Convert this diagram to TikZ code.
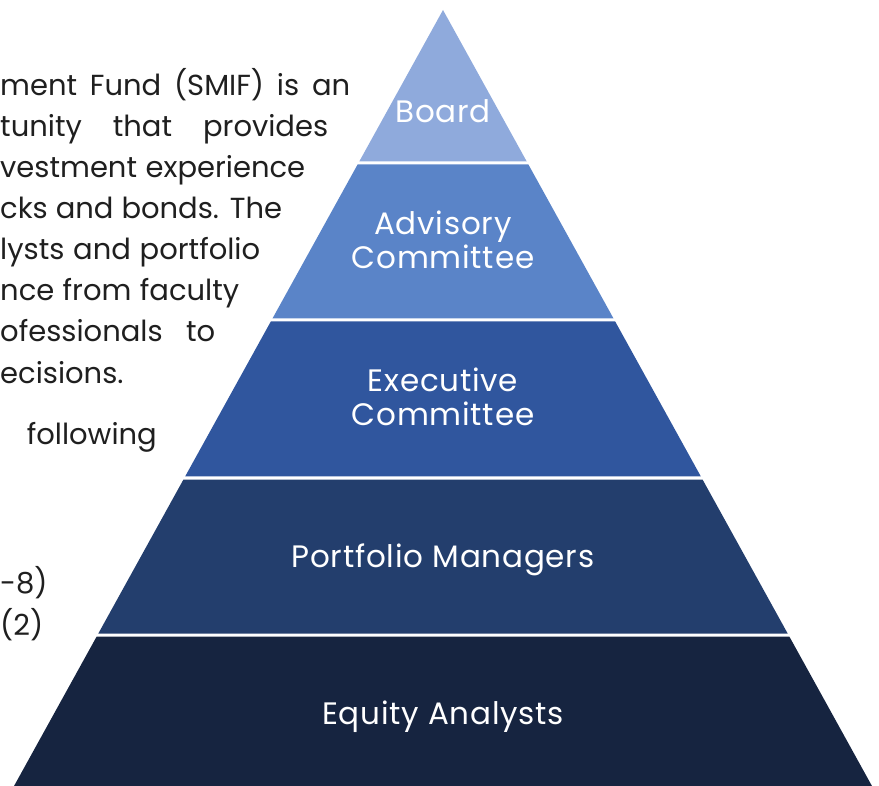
\documentclass[tikz,border=0pt]{standalone}
\usepackage{fontspec}
\setmainfont{Poppins}
\newfontfamily\tierfont[LetterSpace=2.5]{Poppins}
\usepackage{xcolor}
\usetikzlibrary{positioning}
\definecolor{boardblue}{HTML}{8FAADC}
\definecolor{advisoryblue}{HTML}{5A84C8}
\definecolor{execblue}{HTML}{30569E}
\definecolor{pmblue}{HTML}{233E6D}
\definecolor{analystblue}{HTML}{162440}
\tikzset{
  every node/.style={inner sep=0pt},
  tier/.style={text=white, font=\tierfont\fontsize{31}{34.5}\selectfont, align=center, anchor=base},
  bodytext/.style={text=black!88, font=\fontsize{29}{41}\selectfont, anchor=base west}
}

\begin{document}
\begin{tikzpicture}[x=1pt, y=-1pt]
\useasboundingbox (0,0) rectangle (879,786);

% Body text (cut by the page edge)
\node[bodytext] (line1) at (0,96) {\makebox[350pt][s]{ment Fund (SMIF) is an}};
\node[bodytext] (line2) at (0,137) {\makebox[328pt][s]{tunity that provides}};
\node[bodytext] (line3) at (0,178) {\makebox[305pt][s]{vestment experience}};
\node[bodytext] (line4) at (0,219) {\makebox[282pt][s]{cks and bonds. The}};
\node[bodytext] (line5) at (0,260) {\makebox[260pt][s]{lysts and portfolio}};
\node[bodytext] (line6) at (0,301) {\makebox[239pt][s]{nce from faculty}};
\node[bodytext] (line7) at (0,342) {\makebox[215pt][s]{ofessionals to}};
\node[bodytext] (line8) at (0,384) {ecisions.};
\node[bodytext, anchor=base east] (line9) at (157,445) {following};
\node[bodytext] (line10) at (0,593) {-8)};
\node[bodytext] (line11) at (0,635) {(2)};

% Pyramid tiers, 3pt white gaps between them
\foreach \ytop/\ybot/\col in {10/161.5/boardblue, 164.5/318.5/advisoryblue,
    321.5/476.5/execblue, 479.5/633.5/pmblue, 636.5/786/analystblue}
  \fill[\col] ({443-0.5528*(\ytop-10)},\ytop) -- ({443+0.5528*(\ytop-10)},\ytop)
    -- ({443+0.5528*(\ybot-10)},\ybot) -- ({443-0.5528*(\ybot-10)},\ybot) -- cycle;

% Tier labels (base = baseline of the last line)
\node[tier] (board) at (443,123) {Board};
\node[tier] (advisory) at (443,269) {Advisory\\Committee};
\node[tier] (executive) at (443,426) {Executive\\Committee};
\node[tier] (managers) at (443,567) {Portfolio Managers};
\node[tier] (analysts) at (443,724) {Equity Analysts};

\end{tikzpicture}
\end{document}
